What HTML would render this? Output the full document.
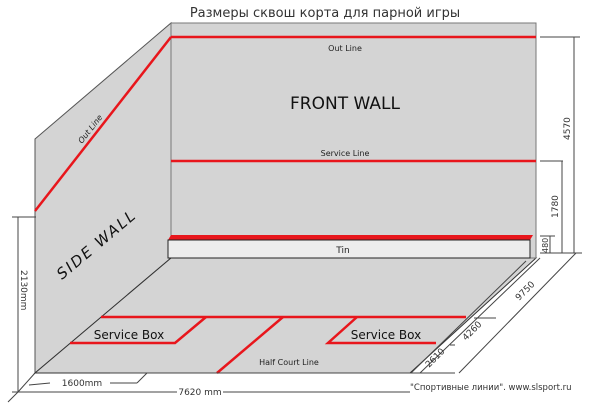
<!DOCTYPE html>
<html><head><style>body{margin:0;background:#fff}svg{display:block}text{font-family:"DejaVu Sans","Liberation Sans",sans-serif}</style></head><body>
<svg width="600" height="405" viewBox="0 0 600 405" xmlns="http://www.w3.org/2000/svg">
<text x="325" y="17" font-size="13" text-anchor="middle" fill="#333">Размеры сквош корта для парной игры</text>
<polygon points="35,139 171,23 171,258 35,373" fill="#d4d4d4" stroke="#555" stroke-width="1"/>
<polygon points="35,373 171,258 536,258 410,373" fill="#d4d4d4" stroke="#333" stroke-width="1"/>
<rect x="171" y="23" width="365" height="235" fill="#d4d4d4" stroke="#777" stroke-width="1"/>
<line x1="171" y1="37" x2="536" y2="37" stroke="#e8161c" stroke-width="2.5"/>
<line x1="171" y1="161" x2="536" y2="161" stroke="#e8161c" stroke-width="2.5"/>
<line x1="171" y1="37" x2="35" y2="211" stroke="#e8161c" stroke-width="2.5"/>
<polygon points="171,235 533,235 530,240 168,240" fill="#e8161c"/>
<rect x="168" y="240" width="362" height="18" fill="#ececec" stroke="#222" stroke-width="1"/>
<text x="343" y="253" font-size="9" text-anchor="middle" fill="#222">Tin</text>
<text x="345" y="51" font-size="8" text-anchor="middle" fill="#222">Out Line</text>
<text x="345" y="156" font-size="8" text-anchor="middle" fill="#222">Service Line</text>
<text x="345" y="109" font-size="17" text-anchor="middle" fill="#111">FRONT WALL</text>
<text transform="translate(62,280) rotate(-40)" font-size="15" font-style="italic" fill="#111" letter-spacing="2">SIDE WALL</text>
<text transform="translate(82,144) rotate(-52)" font-size="8" font-style="italic" fill="#222">Out Line</text>
<g stroke="#e8161c" stroke-width="2.5" fill="none">
<line x1="101" y1="317" x2="466" y2="317"/>
<polyline points="70,343 175,343 206,317"/>
<polyline points="357,317 328,343 436,343"/>
<line x1="217" y1="373" x2="283" y2="317"/>
</g>
<text x="129" y="339" font-size="12" text-anchor="middle" fill="#111">Service Box</text>
<text x="386" y="339" font-size="12" text-anchor="middle" fill="#111">Service Box</text>
<text x="289" y="365" font-size="8" text-anchor="middle" fill="#222">Half Court Line</text>
<g stroke="#444" stroke-width="1" fill="none">
<line x1="540" y1="37" x2="580" y2="37"/><line x1="574" y1="37" x2="574" y2="253"/>
<line x1="540" y1="161" x2="563" y2="161"/><line x1="562" y1="161" x2="562" y2="253"/>
<line x1="540" y1="236" x2="555" y2="236"/><line x1="550" y1="236" x2="550" y2="253"/>
<line x1="540" y1="253" x2="582" y2="253"/>
<line x1="576" y1="253" x2="459" y2="373"/>
<line x1="540" y1="258" x2="420" y2="373"/>
<line x1="526" y1="261" x2="411" y2="373"/>
<line x1="110" y1="373" x2="455" y2="373"/>
<line x1="474" y1="318" x2="496" y2="318"/>
<line x1="450" y1="345" x2="455" y2="345"/>
<line x1="12" y1="217" x2="36" y2="217"/><line x1="18" y1="217" x2="18" y2="392"/>
<line x1="12" y1="392" x2="410" y2="392"/>
<line x1="35" y1="373" x2="18" y2="392"/>
<line x1="18" y1="392" x2="8" y2="402"/>
<line x1="29" y1="385" x2="50" y2="383"/>
<line x1="110" y1="383" x2="137" y2="383"/>
<line x1="137" y1="383" x2="147" y2="373"/>
</g>
<rect x="177" y="387" width="46" height="10" fill="#fff"/>
<text x="200" y="395" font-size="9" text-anchor="middle" fill="#333">7620 mm</text>
<rect x="56" y="378" width="52" height="10" fill="#fff"/>
<text x="82" y="386" font-size="9" text-anchor="middle" fill="#333">1600mm</text>
<text transform="translate(21,270) rotate(90)" font-size="9" fill="#333">2130mm</text>
<text transform="translate(570,140) rotate(-90)" font-size="9" fill="#333">4570</text>
<text transform="translate(558,218) rotate(-90)" font-size="9" fill="#333">1780</text>
<text transform="translate(548,253) rotate(-90)" font-size="8" fill="#333">480</text>
<text transform="translate(519,301) rotate(-45)" font-size="9" fill="#333">9750</text>
<text transform="translate(466,341) rotate(-45)" font-size="9" fill="#333">4260</text>
<text transform="translate(429,368) rotate(-45)" font-size="9" fill="#333">2610</text>
<text x="410" y="390" font-size="8.5" fill="#333">"Спортивные линии". www.slsport.ru</text>
</svg>
</body></html>
